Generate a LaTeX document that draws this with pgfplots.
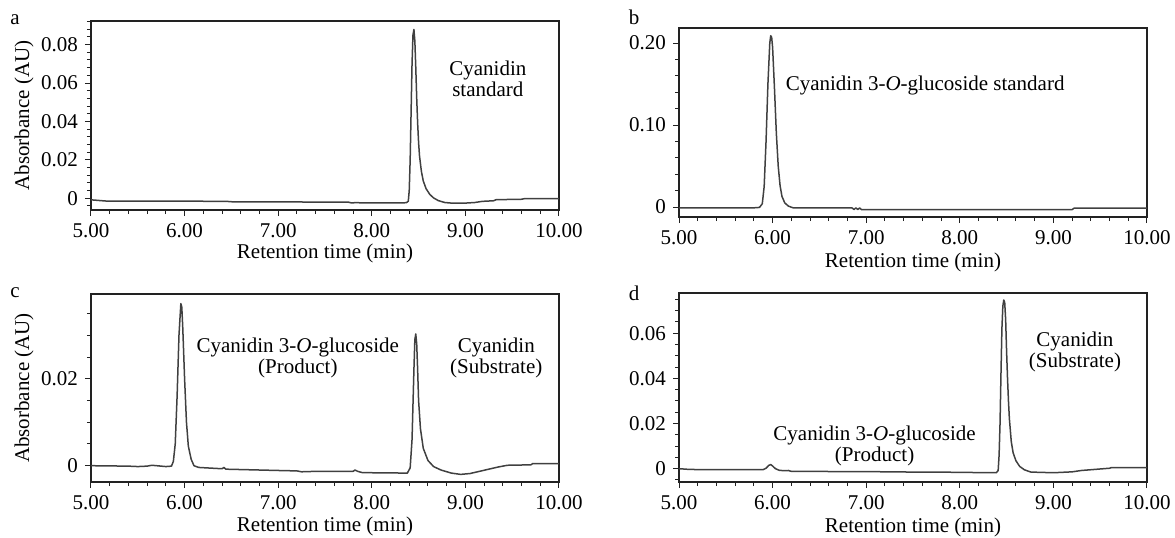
\documentclass[border=0pt]{standalone}
\usepackage{fontspec}
\setmainfont{Liberation Serif}
\usepackage{pgfplots}
\usepackage{pgfplotstable}
\pgfplotsset{compat=1.18}
\definecolor{trace}{HTML}{404040}
\definecolor{axcol}{HTML}{222222}

\pgfplotstableread{
x y
5.00 -0.0008
5.05 -0.0010
5.10 -0.0012
5.15 -0.0014
5.20 -0.0015
6.00 -0.0015
6.45 -0.0016
6.50 -0.0018
6.55 -0.0019
7.00 -0.0019
7.75 -0.0020
7.78 -0.0024
7.82 -0.0023
8.00 -0.0024
8.30 -0.0024
8.37 -0.0023
8.39 -0.0015
8.40 0.0040
8.41 0.0200
8.42 0.0450
8.43 0.0700
8.44 0.0850
8.45 0.0879
8.46 0.0820
8.47 0.0680
8.48 0.0520
8.49 0.0390
8.50 0.0290
8.51 0.0220
8.53 0.0140
8.55 0.0090
8.58 0.0050
8.62 0.0020
8.66 0.0002
8.71 -0.0012
8.78 -0.0022
8.85 -0.0025
9.00 -0.0025
9.10 -0.0022
9.18 -0.0016
9.30 -0.0013
9.33 -0.0007
9.50 -0.0006
9.60 -0.0005
9.63 -0.0002
10.00 -0.0002
}\dataA

\pgfplotstableread{
x y
5.00 -0.0010
5.80 -0.0010
5.86 -0.0005
5.89 0.0040
5.91 0.0250
5.93 0.0800
5.95 0.1500
5.97 0.2000
5.98 0.2090
5.99 0.2070
6.00 0.1950
6.02 0.1450
6.04 0.0900
6.06 0.0500
6.08 0.0260
6.10 0.0130
6.13 0.0050
6.17 0.0010
6.22 -0.0010
6.85 -0.0012
6.87 -0.0030
6.89 -0.0010
6.91 -0.0030
6.93 -0.0012
6.95 -0.0032
9.20 -0.0032
9.22 -0.0015
10.00 -0.0015
}\dataB

\pgfplotstableread{
x y
5.00 0.0000
5.40 -0.0001
5.50 -0.0002
5.60 -0.0001
5.65 0.0001
5.70 0.0000
5.80 -0.0002
5.86 -0.0001
5.88 0.0010
5.90 0.0050
5.92 0.0160
5.94 0.0300
5.96 0.0373
5.97 0.0365
5.98 0.0320
6.00 0.0200
6.02 0.0100
6.04 0.0045
6.07 0.0015
6.10 0.0000
6.15 -0.0004
6.40 -0.0007
6.42 -0.0004
6.44 -0.0008
7.00 -0.0011
7.20 -0.0012
7.25 -0.0014
7.40 -0.0013
7.80 -0.0013
7.82 -0.0010
7.85 -0.0013
7.90 -0.0016
8.38 -0.0017
8.41 -0.0005
8.43 0.0060
8.45 0.0220
8.46 0.0290
8.47 0.0303
8.48 0.0280
8.49 0.0220
8.50 0.0150
8.52 0.0085
8.55 0.0040
8.60 0.0012
8.66 -0.0002
8.74 -0.0010
8.85 -0.0017
8.95 -0.0020
9.05 -0.0018
9.15 -0.0013
9.25 -0.0008
9.35 -0.0003
9.45 0.0001
9.70 0.0002
9.72 0.0005
10.00 0.0005
}\dataC

\pgfplotstableread{
x y
5.00 0.0000
5.10 -0.0003
5.20 -0.0004
5.90 -0.0004
5.93 0.0002
5.96 0.0015
5.98 0.0018
6.00 0.0012
6.03 0.0000
6.07 -0.0007
6.12 -0.0009
6.17 -0.0008
6.20 -0.0012
7.00 -0.0013
7.50 -0.0015
8.00 -0.0016
8.30 -0.0018
8.39 -0.0018
8.41 -0.0008
8.42 0.0060
8.43 0.0200
8.44 0.0420
8.45 0.0620
8.46 0.0720
8.47 0.0747
8.48 0.0735
8.49 0.0660
8.50 0.0520
8.51 0.0400
8.52 0.0300
8.53 0.0220
8.55 0.0120
8.57 0.0070
8.60 0.0035
8.64 0.0010
8.69 -0.0005
8.76 -0.0015
9.00 -0.0018
9.20 -0.0014
9.30 -0.0008
9.60 0.0002
9.62 0.0005
10.00 0.0005
}\dataD

\tikzset{
  ann/.style={font=\fontsize{10.5}{10.5}\selectfont, align=center, text=black},
  plab/.style={anchor=base, font=\fontsize{10.5}{10.5}\selectfont, text=black},
  tr/.style={trace, line width=0.75pt, no markers, line join=round},
}
\pgfplotsset{
  chrom/.style={
    scale only axis, width=234pt, height=94.5pt, anchor=south west,
    clip=false,
    scaled y ticks=false,
    xmin=5, xmax=10,
    xtick={5,6,7,8,9,10},
    xticklabels={5.00,6.00,7.00,8.00,9.00,10.00},
    minor x tick num=4,
    tick align=outside, tick pos=left,
    major tick length=3pt, minor tick length=2pt,
    axis line style={axcol, line width=0.6pt},
    every tick/.style={axcol, line width=0.5pt},
    tick label style={font=\fontsize{10.5}{10.5}\selectfont, text=black},
    label style={font=\fontsize{10.5}{10.5}\selectfont, text=black},
    xlabel={Retention time (min)},
    xlabel style={at={(axis description cs:0.5,-0.238)}, anchor=center},
    ylabel style={at={(axis description cs:-0.1432,0.5)}, anchor=center},
  },
}

\begin{document}
\begin{tikzpicture}
\useasboundingbox (0,0) rectangle (587.5pt,268.5pt);

% panel a
\begin{axis}[chrom, at={(45.5pt,163.5pt)},
  ymin=-0.0061, ymax=0.0923,
  ytick={0,0.02,0.04,0.06,0.08},
  yticklabels={0,0.02,0.04,0.06,0.08},
  minor ytick={-0.004,0.004,0.008,0.012,0.016,0.024,0.028,0.032,0.036,0.044,0.048,0.052,0.056,0.064,0.068,0.072,0.076,0.084,0.088,0.092},
  ylabel={Absorbance (AU)},
  xlabel style={at={(axis description cs:0.5,-0.2275)}, anchor=center},
]
\addplot[tr] table[x=x,y=y] {\dataA};
\node[ann] at (axis cs:9.24,0.0621) {Cyanidin\\standard};
\node[plab] at (rel axis cs:-0.1624,0.979) {a};
\end{axis}

% panel b
\begin{axis}[chrom, at={(339.5pt,160pt)},
  ymin=-0.0122, ymax=0.2184,
  ytick={0,0.1,0.2},
  yticklabels={0,0.10,0.20},
  minor ytick={0.02,0.04,0.06,0.08,0.12,0.14,0.16,0.18},
]
\addplot[tr] table[x=x,y=y] {\dataB};
\node[ann] at (axis cs:7.63,0.148) {Cyanidin 3-\textit{O}-glucoside standard};
\node[plab] at (rel axis cs:-0.096,1.016) {b};
\end{axis}

% panel c
\begin{axis}[chrom, at={(45.5pt,27.5pt)}, height=94pt,
  ymin=-0.00375, ymax=0.0395,
  ytick={0,0.02},
  yticklabels={0,0.02},
  minor ytick={0.005,0.01,0.015,0.025,0.03,0.035},
  ylabel={Absorbance (AU)},
]
\addplot[tr] table[x=x,y=y] {\dataC};
\node[ann] at (axis cs:7.21,0.0249) {Cyanidin 3-\textit{O}-glucoside\\(Product)};
\node[ann] at (axis cs:9.33,0.0249) {Cyanidin\\(Substrate)};
\node[plab] at (rel axis cs:-0.1624,0.979) {c};
\end{axis}

% panel d
\begin{axis}[chrom, at={(339.5pt,27.5pt)},
  ymin=-0.0059, ymax=0.0778,
  ytick={0,0.02,0.04,0.06},
  yticklabels={0,0.02,0.04,0.06},
  minor ytick={-0.005,0.005,0.01,0.015,0.025,0.03,0.035,0.045,0.05,0.055,0.065,0.07,0.075},
]
\addplot[tr] table[x=x,y=y] {\dataD};
\node[ann] at (axis cs:7.09,0.0099) {Cyanidin 3-\textit{O}-glucoside\\(Product)};
\node[ann] at (axis cs:9.23,0.0516) {Cyanidin\\(Substrate)};
\node[plab] at (rel axis cs:-0.096,0.963) {d};
\end{axis}
\end{tikzpicture}
\end{document}
